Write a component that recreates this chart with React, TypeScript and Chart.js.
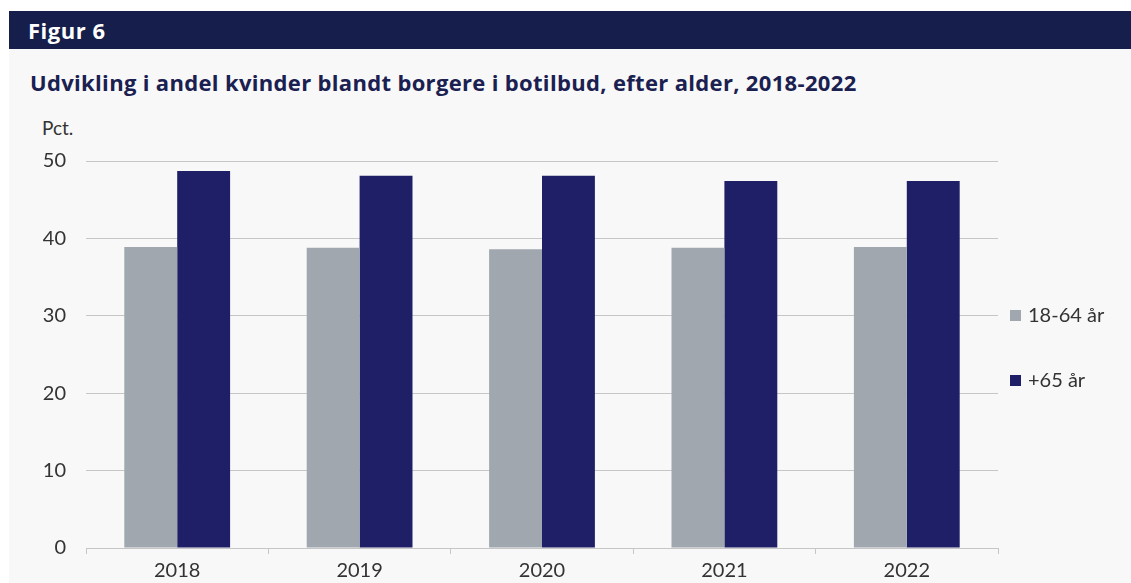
import React, { useEffect, useRef } from "react";
import { Chart, registerables } from "chart.js";

Chart.register(...registerables);

const categories = ["2018", "2019", "2020", "2021", "2022"];
const seriesNames = ["18-64 år", "+65 år"];
const young = [38.9, 38.8, 38.6, 38.8, 38.9];
const old = [48.7, 48.1, 48.1, 47.4, 47.4];
const yTicks = [0, 10, 20, 30, 40, 50];
const colors = ["#a0a7af", "#1f1f67"];

const FONT = "Lato, 'Open Sans', sans-serif";
const TITLE_FONT = "'Open Sans', 'Noto Sans', sans-serif";

const legendPlugin = {
  id: "sideLegend",
  afterDraw(chart: any) {
    const { ctx, chartArea } = chart;
    const ds = chart.data.datasets;
    ctx.save();
    ctx.font = `20px ${FONT}`;
    ctx.textBaseline = "middle";
    ds.forEach((d: any, i: number) => {
      const y = chartArea.top + 154 + i * 65;
      const x = chartArea.right + 12;
      ctx.fillStyle = d.backgroundColor;
      ctx.fillRect(x, y - 5, 11, 11);
      ctx.fillStyle = "#333333";
      ctx.fillText(d.label, x + 18, y + 1);
    });
    ctx.restore();
  },
};

export default function App() {
  const ref = useRef<HTMLCanvasElement>(null);
  useEffect(() => {
    if (!ref.current) return;
    const chart = new Chart(ref.current, {
      type: "bar",
      data: {
        labels: categories,
        datasets: [
          { label: seriesNames[0], data: young, backgroundColor: colors[0], borderWidth: 0 },
          { label: seriesNames[1], data: old, backgroundColor: colors[1], borderWidth: 0 },
        ],
      },
      options: {
        animation: false,
        responsive: false,
        maintainAspectRatio: false,
        layout: { padding: { top: 0, right: 133, bottom: 1, left: 0 } },
        datasets: { bar: { barPercentage: 1, categoryPercentage: 0.58 } },
        plugins: { legend: { display: false }, tooltip: { enabled: false }, title: { display: false } },
        scales: {
          x: {
            grid: { display: true, offset: true, drawOnChartArea: false, drawTicks: true, tickLength: 6, color: "#c6c6c6" },
            border: { display: true, color: "#c6c6c6", width: 1 },
            ticks: { color: "#333333", font: { family: FONT, size: 20 }, padding: 5 },
            afterFit: (s: any) => { s.height = 40; },
          },
          y: {
            min: 0,
            max: 50,
            afterBuildTicks: (s: any) => { s.ticks = yTicks.map((v) => ({ value: v })); },
            grid: { color: "#c6c6c6", drawTicks: false, lineWidth: 1 },
            border: { display: false },
            ticks: { color: "#333333", font: { family: FONT, size: 20 }, padding: 20 },
            afterFit: (s: any) => { s.width = 86; },
          },
        },
      },
      plugins: [legendPlugin],
    } as any);
    return () => chart.destroy();
  }, []);

  return (
    <div style={{ position: "absolute", left: 0, top: 0, width: 1131, height: 583, background: "#ffffff", overflow: "hidden", fontFamily: FONT }}>
      <div style={{ position: "absolute", left: 9, top: 11, width: 1122, height: 38, background: "#161f4b" }}>
        <div style={{ position: "absolute", left: 19, top: 0, lineHeight: "38px", color: "#ffffff", fontWeight: 700, fontSize: 22, letterSpacing: 0.5, fontFamily: TITLE_FONT }}>Figur 6</div>
      </div>
      <div style={{ position: "absolute", left: 9, top: 49, width: 1122, height: 534, background: "#f8f8f8" }} />
      <div style={{ position: "absolute", left: 30, top: 67, lineHeight: "30px", color: "#1a2050", fontWeight: 700, fontSize: 22, letterSpacing: 0.33, whiteSpace: "nowrap", fontFamily: TITLE_FONT }}>
        Udvikling i andel kvinder blandt borgere i botilbud, efter alder, 2018-2022
      </div>
      <div style={{ position: "absolute", left: 42, top: 117, lineHeight: "22px", color: "#333333", fontSize: 19 }}>Pct.</div>
      <canvas ref={ref} width={1131} height={460} style={{ position: "absolute", left: 0, top: 129, width: 1131, height: 460 }} />
    </div>
  );
}
